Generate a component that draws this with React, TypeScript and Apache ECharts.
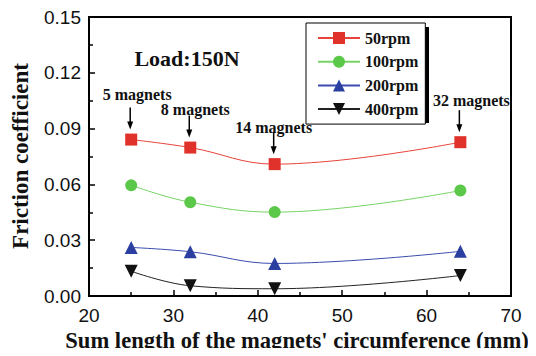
import React, { useEffect, useRef } from "react";
import * as echarts from "echarts";

const circumference = [25, 32, 42, 64];
const rpm50 = [0.0841, 0.0798, 0.0709, 0.0827];
const rpm100 = [0.0595, 0.0504, 0.0451, 0.0567];
const rpm200 = [0.0261, 0.0238, 0.0175, 0.024];
const rpm400 = [0.0133, 0.0055, 0.0039, 0.011];
const seriesNames = ["50rpm", "100rpm", "200rpm", "400rpm"];
const xTicks = { min: 20, max: 70, interval: 10 };
const yTicks = { min: 0, max: 0.15, interval: 0.03 };
const xTitle = "Sum length of the magnets' circumference (mm)";
const yTitle = "Friction coefficient";

const annotations = [
  { label: "5 magnets", x: 25, y: 0.0841 },
  { label: "8 magnets", x: 32, y: 0.0798 },
  { label: "14 magnets", x: 42, y: 0.0709 },
  { label: "32 magnets", x: 64, y: 0.0827 },
];
const annotOffsets = [
  { dx: 6, dy: -45 },
  { dx: 5, dy: -38.5 },
  { dx: -1, dy: -36.5 },
  { dx: 11, dy: -41.5 },
];

const SERIF = "'Liberation Serif', 'Times New Roman', serif";
const SANS = "'Liberation Sans', Arial, sans-serif";

export default function App() {
  const ref = useRef<HTMLDivElement>(null);
  useEffect(() => {
    if (!ref.current) return;
    const chart = echarts.init(ref.current, null, { renderer: "svg" });
    const mk = (vals: number[]) => circumference.map((x, i) => [x, vals[i]]);
    const styles = [
      { color: "#e0322a", line: "#e8443a", symbol: "rect", size: 12, rotate: 0 },
      { color: "#5cc84a", line: "#78d466", symbol: "circle", size: 12, rotate: 0 },
      { color: "#2b3fa0", line: "#3a4cae", symbol: "triangle", size: 13, rotate: 0 },
      { color: "#111111", line: "#222222", symbol: "triangle", size: 13, rotate: 180 },
    ];
    const datas = [rpm50, rpm100, rpm200, rpm400];
    const series = datas.map((d, i) => ({
      name: seriesNames[i],
      type: "line",
      data: mk(d),
      smooth: 0.4,
      symbol: styles[i].symbol,
      symbolSize: styles[i].size,
      symbolRotate: styles[i].rotate,
      itemStyle: { color: styles[i].color },
      lineStyle: { color: styles[i].line, width: 1 },
      z: 3,
    }));
    chart.setOption({
      animation: false,
      backgroundColor: "#fff",
      grid: {
        left: 89,
        right: 25,
        top: 17,
        bottom: 60,
        show: true,
        borderColor: "#000",
        borderWidth: 2,
        backgroundColor: "transparent",
      },
      legend: {
        left: 306,
        top: 23,
        orient: "vertical",
        itemWidth: 42,
        itemHeight: 15,
        itemGap: 7.7,
        padding: [7, 7, 7, 11],
        backgroundColor: "#fff",
        borderColor: "#000",
        borderWidth: 1,
        borderRadius: 0,
        textStyle: {
          fontFamily: SERIF,
          fontWeight: "bold",
          fontSize: 16,
          color: "#111",
          lineHeight: 15,
        },
        data: seriesNames,
        z: 5,
      },
      xAxis: {
        type: "value",
        min: xTicks.min,
        max: xTicks.max,
        interval: xTicks.interval,
        axisLine: { show: true, lineStyle: { color: "#000", width: 2 } },
        axisTick: { show: true, inside: true, length: 6, lineStyle: { color: "#000", width: 1.5 } },
        minorTick: { show: true, splitNumber: 2, length: 4, lineStyle: { color: "#000", width: 1.5 } },
        axisLabel: { fontFamily: SANS, fontSize: 19, color: "#111", margin: 10 },
        splitLine: { show: false },
      },
      yAxis: {
        type: "value",
        min: yTicks.min,
        max: yTicks.max,
        interval: yTicks.interval,
        axisLine: { show: true, lineStyle: { color: "#000", width: 2 } },
        axisTick: { show: true, inside: true, length: 6, lineStyle: { color: "#000", width: 1.5 } },
        minorTick: { show: true, splitNumber: 2, length: 4, lineStyle: { color: "#000", width: 1.5 } },
        axisLabel: {
          fontFamily: SANS,
          fontSize: 19,
          color: "#111",
          margin: 8,
          formatter: (v: number) => v.toFixed(2),
        },
        splitLine: { show: false },
      },
      series,
    });

    const graphics: any[] = [];
    graphics.push({
      type: "rect",
      shape: { x: 310, y: 27, width: 119, height: 96 },
      style: { fill: "#000" },
      z: 1,
      silent: true,
    });
    graphics.push({
      type: "text",
      x: 20,
      y: 156,
      rotation: Math.PI / 2,
      style: {
        text: yTitle,
        font: `bold 23px ${SERIF}`,
        fill: "#111",
        align: "center",
        verticalAlign: "middle",
      },
      z: 6,
    });
    graphics.push({
      type: "text",
      x: 297,
      y: 340,
      style: {
        text: xTitle,
        font: `bold 22.6px ${SERIF}`,
        fill: "#111",
        align: "center",
        verticalAlign: "middle",
      },
      z: 6,
    });
    graphics.push({
      type: "text",
      x: 187,
      y: 58,
      style: {
        text: "Load:150N",
        font: `bold 22px ${SERIF}`,
        fill: "#111",
        align: "center",
        verticalAlign: "middle",
      },
      z: 6,
    });
    annotations.forEach((a, i) => {
      const p = chart.convertToPixel({ gridIndex: 0 }, [a.x, a.y]) as number[];
      const px = p[0] - 1;
      const tip = p[1] - 10;
      const tail = p[1] - 32;
      graphics.push({
        type: "line",
        shape: { x1: px, y1: tail, x2: px, y2: tip - 6 },
        style: { stroke: "#000", lineWidth: 1.5 },
        z: 6,
      });
      graphics.push({
        type: "polygon",
        shape: { points: [[px - 3, tip - 8], [px + 3, tip - 8], [px, tip]] },
        style: { fill: "#000" },
        z: 6,
      });
      graphics.push({
        type: "text",
        x: p[0] + annotOffsets[i].dx,
        y: p[1] + annotOffsets[i].dy,
        style: {
          text: a.label,
          font: `bold 16px ${SERIF}`,
          fill: "#111",
          align: "center",
          verticalAlign: "middle",
        },
        z: 6,
      });
    });
    chart.setOption({ graphic: graphics });

    return () => chart.dispose();
  }, []);
  return <div ref={ref} style={{ width: 536, height: 356, margin: -8 }} />;
}
